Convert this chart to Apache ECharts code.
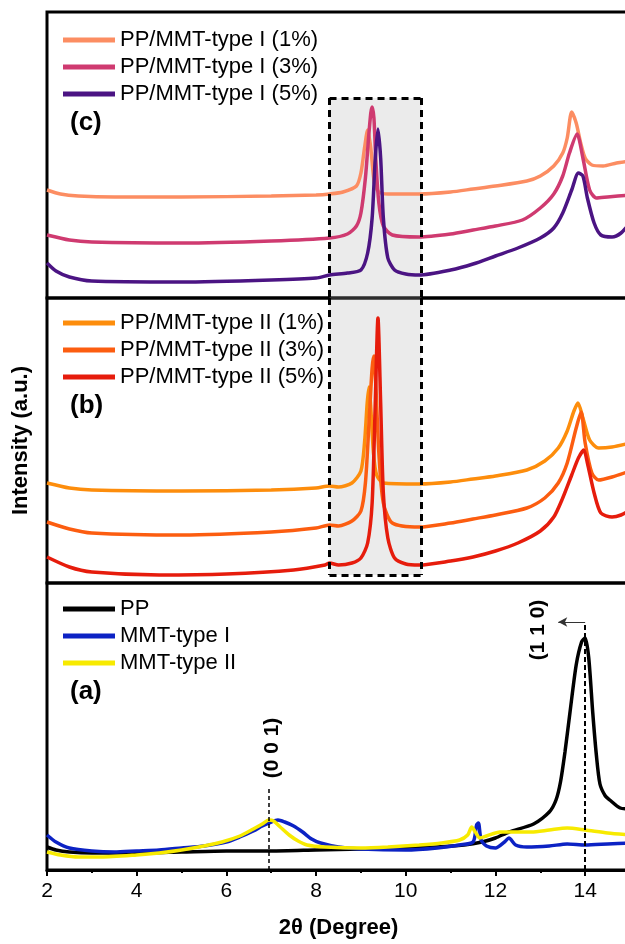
<!DOCTYPE html>
<html>
<head>
<meta charset="utf-8">
<script src="https://cdn.jsdelivr.net/npm/echarts@6/dist/echarts.min.js"></script>
<style>
  html, body { margin: 0; padding: 0; background: #fff; }
  #main { width: 625px; height: 944px; }
</style>
</head>
<body>
<div id="main"></div>
<script>
// ---- data (2theta in degree, intensity in arbitrary units, per panel) ----
// panel (c): PP/MMT-type I
var typeI1 = [[2.0,108],[2.3,104],[2.7,102],[3.5,101],[5,101],[7,102],[8,103],[8.3,104],[8.6,106],[8.9,112],[9.0,125],[9.08,150],[9.15,168],[9.22,150],[9.3,115],[9.4,106],[9.6,104],[10.3,104],[11,106],[11.5,109],[12,112],[12.7,117],[13.0,122],[13.3,132],[13.5,145],[13.6,160],[13.7,186],[13.8,175],[13.9,155],[14.0,140],[14.15,133],[14.4,132],[14.7,135],[15,137]];
var typeI3 = [[2.0,63],[2.5,58],[3,56],[5,55],[7,57],[8.3,60],[8.7,64],[8.9,72],[9.0,85],[9.1,120],[9.17,160],[9.22,185],[9.25,191],[9.29,180],[9.33,140],[9.4,95],[9.5,72],[9.7,63],[10.3,61],[11,64],[11.5,68],[12,72],[12.6,78],[13.0,90],[13.3,104],[13.5,122],[13.65,145],[13.82,164],[13.95,140],[14.1,108],[14.25,100],[14.5,101],[15,103]];
var typeI5 = [[2.0,35],[2.2,27],[2.5,21],[3,17],[5,16],[7,18],[8.0,20],[8.3,23],[8.7,25],[9.0,28],[9.15,45],[9.25,80],[9.32,140],[9.38,169],[9.44,140],[9.5,80],[9.6,40],[9.75,28],[10.0,24],[10.3,23],[11,28],[11.5,34],[12,42],[12.5,50],[13.0,60],[13.3,70],[13.5,85],[13.7,108],[13.85,125],[13.95,122],[14.05,100],[14.2,75],[14.35,63],[14.6,61],[14.8,65],[15,75]];
// panel (b): PP/MMT-type II
var typeII1 = [[2.0,100],[2.5,95],[3.0,93],[5.0,92],[7.0,93],[8.0,95],[8.3,97],[8.5,96],[8.8,100],[9.0,112],[9.08,140],[9.14,180],[9.18,196],[9.22,175],[9.28,130],[9.35,108],[9.5,100],[10.3,99],[11.0,101],[11.5,104],[12.0,107],[12.7,113],[13.1,122],[13.4,135],[13.6,152],[13.75,172],[13.84,180],[13.95,165],[14.1,143],[14.3,135],[14.6,136],[15,140]];
var typeII3 = [[2.0,61],[2.5,54],[3.0,50],[5.0,48],[7.0,51],[8.0,55],[8.3,58],[8.5,57],[8.8,62],[9.0,72],[9.1,100],[9.18,160],[9.25,215],[9.29,227],[9.33,200],[9.4,130],[9.5,80],[9.7,60],[10.3,56],[11,60],[11.5,64],[12,68],[12.7,75],[13.1,85],[13.4,100],[13.6,120],[13.8,155],[13.91,171],[14.0,140],[14.15,110],[14.3,103],[14.6,106],[15,112]];
var typeII5 = [[2.0,26],[2.5,16],[3.0,11],[4.5,8],[6.0,9],[7.5,13],[8.2,18],[8.3,20],[8.5,18],[8.8,20],[9.0,25],[9.15,40],[9.25,80],[9.32,180],[9.38,265],[9.44,180],[9.5,90],[9.6,45],[9.75,25],[10.0,19],[10.3,18],[11,22],[11.5,26],[12,32],[12.5,40],[13.0,52],[13.3,66],[13.5,85],[13.7,108],[13.85,125],[13.97,133],[14.05,120],[14.2,90],[14.35,70],[14.6,66],[14.8,68],[15,73]];
// panel (a): PP and clays
var pp = [[2.0,23],[2.2,20],[2.5,18],[3,17],[4,17],[5,18],[6,19],[7,19],[8,20],[9,21],[10,22],[10.7,23],[11.3,25],[11.7,28],[12.0,32],[12.3,38],[12.85,46],[13.2,58],[13.35,70],[13.45,88],[13.55,118],[13.66,157],[13.8,205],[13.92,228],[14.0,232],[14.08,212],[14.17,157],[14.25,115],[14.33,86],[14.45,74],[14.55,70],[14.78,62],[15,61]];
var mmtI = [[2.0,35],[2.2,28],[2.5,22],[3,19],[3.5,18],[4,19],[4.5,20],[5,22],[5.5,24],[6,28],[6.3,33],[6.6,39],[6.8,44],[7.0,48],[7.15,50],[7.3,48],[7.5,44],[7.7,38],[7.9,31],[8.1,27],[8.5,23],[9,21],[10,20],[10.7,22],[11.2,25],[11.5,28],[11.58,45],[11.62,47],[11.68,30],[11.8,24],[12.0,22],[12.2,28],[12.3,32],[12.45,25],[12.7,23],[13.2,24],[13.6,26],[14,25],[14.5,26],[15,27]];
var mmtII = [[2.0,18],[2.3,15],[2.7,13],[3.2,13],[4,15],[4.5,17],[5,20],[5.5,24],[5.9,28],[6.3,34],[6.6,41],[6.8,46],[6.95,50],[7.05,49],[7.2,43],[7.4,35],[7.6,29],[7.8,25],[8.2,23],[9,22],[9.6,23],[10.3,25],[10.8,27],[11.2,30],[11.38,35],[11.47,43],[11.55,38],[11.65,32],[11.8,34],[12.1,38],[12.4,38],[12.8,38],[13.2,40],[13.6,42],[14,40],[14.5,37],[15,35]];

var xTicks = [2, 4, 6, 8, 10, 12, 14];
var boxX = [8.3, 10.35];      // dashed zoom box, 2theta range
var boxTopC = 200;            // top of the box in panel (c)
var boxBottomB = 8;           // bottom of the box in panel (b)
var peak001 = [6.95, 82];     // (0 0 1) reference line
var peak110 = [14.0, 248];    // (1 1 0) reference line
var arrowTo = 13.4;
var label001 = [7.02, 122];
var label110 = [12.95, 240];

var FONT = '"Liberation Sans", Arial, sans-serif';
var chart = echarts.init(document.getElementById('main'));

var panels = [
  { top: 12, height: 286 },
  { top: 298, height: 285 },
  { top: 583, height: 287 }
];

function mkLine(name, data, color, axis) {
  return {
    name: name, type: 'line', data: data,
    xAxisIndex: axis, yAxisIndex: axis,
    showSymbol: false, symbol: 'none', smooth: 0.25,
    lineStyle: { color: color, width: 3.5 }, itemStyle: { color: color },
    z: 3
  };
}

var dash = { color: '#000', width: 3, type: [7, 5] };
var boxC = {
  type: 'line', data: [], xAxisIndex: 0, yAxisIndex: 0, z: 6, silent: true,
  markArea: { silent: true, itemStyle: { color: 'rgba(175,175,175,0.25)' },
    data: [[{ coord: [boxX[0], boxTopC] }, { coord: [boxX[1], 0] }]] },
  markLine: { silent: true, symbol: ['none', 'none'], lineStyle: dash, label: { show: false },
    data: [
      [{ coord: [boxX[0], boxTopC] }, { coord: [boxX[0], 0] }],
      [{ coord: [boxX[1], boxTopC] }, { coord: [boxX[1], 0] }],
      [{ coord: [boxX[0], boxTopC] }, { coord: [boxX[1], boxTopC] }]
    ] }
};
var boxB = {
  type: 'line', data: [], xAxisIndex: 1, yAxisIndex: 1, z: 6, silent: true,
  markArea: { silent: true, itemStyle: { color: 'rgba(175,175,175,0.25)' },
    data: [[{ coord: [boxX[0], panels[1].height] }, { coord: [boxX[1], boxBottomB] }]] },
  markLine: { silent: true, symbol: ['none', 'none'], lineStyle: dash, label: { show: false },
    data: [
      [{ coord: [boxX[0], panels[1].height] }, { coord: [boxX[0], boxBottomB] }],
      [{ coord: [boxX[1], panels[1].height] }, { coord: [boxX[1], boxBottomB] }],
      [{ coord: [boxX[0], boxBottomB] }, { coord: [boxX[1], boxBottomB] }]
    ] }
};
var notesA = {
  type: 'line', data: [], xAxisIndex: 2, yAxisIndex: 2, z: 6, silent: true,
  markLine: { silent: true, symbol: ['none', 'none'], label: { show: false },
    data: [
      [{ coord: [peak001[0], 0], lineStyle: { color: '#000', width: 1.5, type: [4, 3] } }, { coord: peak001 }],
      [{ coord: [peak110[0], 0], lineStyle: { color: '#000', width: 2, type: [5, 3] } }, { coord: peak110 }],
      [{ coord: peak110, lineStyle: { color: '#333', width: 1, type: 'solid' } },
       { coord: [arrowTo, peak110[1]], symbol: 'arrow', symbolSize: [7, 9] }]
    ] },
  markPoint: { silent: true, symbol: 'circle', symbolSize: 0,
    label: { show: true, position: 'inside', rotate: 90, color: '#000', fontFamily: FONT,
      fontSize: 21, fontWeight: 'bold' },
    data: [
      { coord: label001, label: { formatter: '(0 0 1)' } },
      { coord: label110, label: { formatter: '(1 1 0)' } }
    ] }
};

function legendAt(top, names) {
  return {
    data: names, orient: 'vertical', left: 63, top: top, padding: 0,
    itemWidth: 52, itemHeight: 5, itemGap: 5, icon: 'rect', selectedMode: false,
    textStyle: { fontFamily: FONT, fontSize: 22, color: '#000', lineHeight: 22 }
  };
}

var option = {
  animation: false,
  backgroundColor: '#fff',
  title: [
    { text: '(c)', left: 70, top: 110 },
    { text: '(b)', left: 70, top: 393 },
    { text: '(a)', left: 70, top: 679 }
  ].map(function (t) {
    t.padding = 0;
    t.textStyle = { fontFamily: FONT, fontSize: 26, fontWeight: 'bold', color: '#000' };
    return t;
  }),
  legend: [
    legendAt(29, ['PP/MMT-type I (1%)', 'PP/MMT-type I (3%)', 'PP/MMT-type I (5%)']),
    legendAt(312, ['PP/MMT-type II (1%)', 'PP/MMT-type II (3%)', 'PP/MMT-type II (5%)']),
    legendAt(598, ['PP', 'MMT-type I', 'MMT-type II'])
  ],
  grid: panels.map(function (p) {
    return { left: 47, top: p.top, width: 583, height: p.height, outerBoundsMode: 'none',
      containLabel: false,
      show: true, borderColor: '#000', borderWidth: 3, backgroundColor: 'transparent' };
  }),
  xAxis: panels.map(function (p, i) {
    var bottom = i === 2;
    return {
      type: 'value', gridIndex: i, min: 2, max: 15, interval: 2,
      axisLine: { show: bottom, onZero: false, lineStyle: { color: '#000', width: 3 } },
      axisTick: { show: bottom, length: 6, lineStyle: { color: '#000', width: 2 } },
      minorTick: { show: bottom, splitNumber: 2, length: 3, lineStyle: { color: '#000', width: 2 } },
      axisLabel: { show: bottom, margin: 11, color: '#000', fontFamily: FONT, fontSize: 21,
        formatter: function (v) { return xTicks.indexOf(v) >= 0 ? String(v) : ''; } },
      splitLine: { show: false },
      name: bottom ? '2\u03b8 (Degree)' : '',
      nameLocation: 'middle', nameGap: 47,
      nameTextStyle: { fontFamily: FONT, fontSize: 22, fontWeight: 'bold', color: '#000' }
    };
  }),
  yAxis: panels.map(function (p, i) {
    return {
      type: 'value', gridIndex: i, min: 0, max: p.height,
      axisLine: { show: false }, axisTick: { show: false }, axisLabel: { show: false },
      splitLine: { show: false },
      name: i === 1 ? 'Intensity (a.u.)' : '',
      nameLocation: 'middle', nameRotate: 90, nameGap: 15,
      nameTextStyle: { fontFamily: FONT, fontSize: 22, fontWeight: 'bold', color: '#000' }
    };
  }),
  series: [
    mkLine('PP/MMT-type I (1%)', typeI1, '#fc8d62', 0),
    mkLine('PP/MMT-type I (3%)', typeI3, '#cf3a70', 0),
    mkLine('PP/MMT-type I (5%)', typeI5, '#4b1483', 0),
    mkLine('PP/MMT-type II (1%)', typeII1, '#fd8d0c', 1),
    mkLine('PP/MMT-type II (3%)', typeII3, '#fc5d10', 1),
    mkLine('PP/MMT-type II (5%)', typeII5, '#e61c0c', 1),
    mkLine('PP', pp, '#000000', 2),
    mkLine('MMT-type I', mmtI, '#0c22c4', 2),
    mkLine('MMT-type II', mmtII, '#f7ea00', 2),
    boxC, boxB, notesA
  ]
};

chart.setOption(option);
</script>
</body>
</html>
